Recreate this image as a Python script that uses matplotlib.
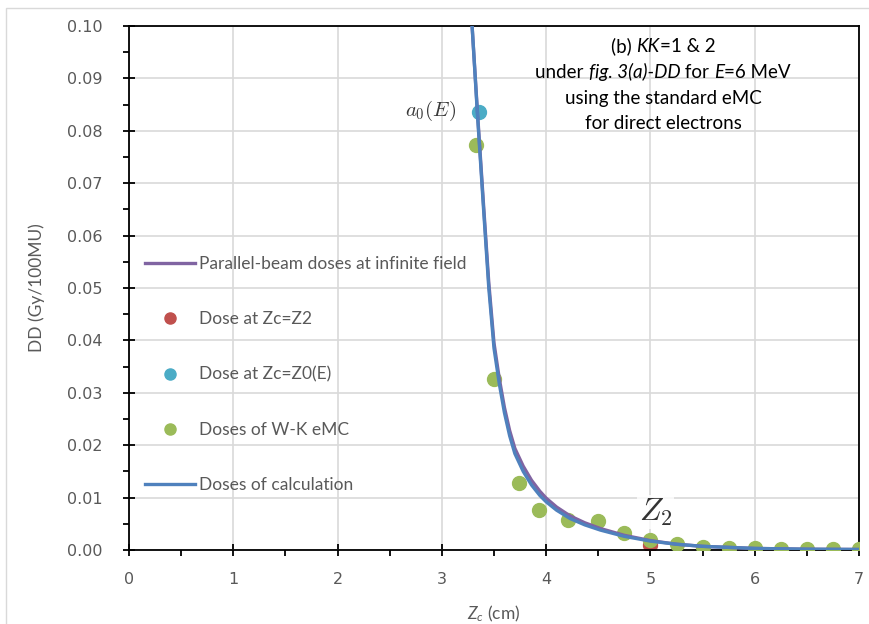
import numpy as np
import matplotlib
matplotlib.use("Agg")
import matplotlib.pyplot as plt
from matplotlib.ticker import MultipleLocator, FormatStrFormatter
from matplotlib.lines import Line2D
from matplotlib.patches import Rectangle

plt.rcParams["font.family"] = ["Lato", "DejaVu Sans"]
plt.rcParams["mathtext.fontset"] = "custom"
plt.rcParams["mathtext.rm"] = "Lato"
plt.rcParams["mathtext.it"] = "Lato:italic"

# depth (cm) and dose (Gy/100MU)
calc_z = [3.27, 3.29, 3.34, 3.40, 3.45, 3.50, 3.55, 3.60, 3.65, 3.70, 3.78, 3.86,
          3.94, 4.00, 4.10, 4.23, 4.37, 4.52, 4.75, 5.00, 5.25, 5.50, 5.75, 6.00, 6.50, 7.00]
calc_dd = [0.1065, 0.1000, 0.0835, 0.0650, 0.0500, 0.0385, 0.0318, 0.0262, 0.0218, 0.0184,
           0.0150, 0.0124, 0.0104, 0.0092, 0.0076, 0.0060, 0.0048, 0.0038, 0.0026, 0.0017,
           0.0011, 0.0007, 0.0005, 0.0003, 0.00015, 0.0001]
par_dd = [0.1065, 0.1000, 0.0840, 0.0658, 0.0510, 0.0395, 0.0328, 0.0272, 0.0228, 0.0194,
          0.0160, 0.0133, 0.0112, 0.0099, 0.0082, 0.0065, 0.0052, 0.0041, 0.0028, 0.0018,
          0.0011, 0.0007, 0.0005, 0.0003, 0.00015, 0.0001]

wk_z = [3.33, 3.50, 3.74, 3.93, 4.21, 4.50, 4.75, 5.00, 5.25, 5.50, 5.75, 6.00, 6.25, 6.50, 6.75, 7.00]
wk_dd = [0.0773, 0.0326, 0.0128, 0.0076, 0.0058, 0.0056, 0.0033, 0.0020, 0.0011, 0.0006,
         0.0004, 0.0003, 0.0002, 0.0001, 0.0001, 0.0001]

z2, dd_z2 = [5.0], [0.0010]
z0, dd_z0 = [3.36], [0.0836]

# caption lines as (text, style) runs
note_lines = [
    [("(b) ", "normal"), ("KK", "italic"), ("=1 & 2", "normal")],
    [("under ", "normal"), ("fig. 3(a)-DD", "italic"), (" for ", "normal"),
     ("E", "italic"), ("=6 MeV", "normal")],
    [("using the standard eMC", "normal")],
    [("for direct electrons", "normal")],
]

PURPLE, RED, CYAN, GREEN, BLUE = "#8064A2", "#C0504D", "#4BACC6", "#9BBB59", "#4F81BD"
GRAY_TXT = "#595959"
W, H = 869, 624

fig = plt.figure(figsize=(W / 100, H / 100), dpi=100)
fig.patches.append(Rectangle((6 / W, -0.1), 1.2, 1 - 8 / H + 0.1, transform=fig.transFigure,
                             fill=False, edgecolor="#D9D9D9", linewidth=1.0))
ax = fig.add_axes([129 / W, 1 - 550 / H, 730 / W, 524 / H])

ax.plot(z2, dd_z2, "o", color=RED, ms=10, zorder=2)
ax.plot(z0, dd_z0, "o", color=CYAN, ms=10, zorder=2)
ax.plot(wk_z, wk_dd, "o", color=GREEN, ms=10, zorder=3)
ax.plot(calc_z, par_dd, color=PURPLE, lw=2.4, zorder=4)
ax.plot(calc_z, calc_dd, color=BLUE, lw=2.4, zorder=5)

ax.set_xlim(0, 7)
ax.set_ylim(0, 0.10)
ax.xaxis.set_major_locator(MultipleLocator(1))
ax.xaxis.set_minor_locator(MultipleLocator(0.5))
ax.yaxis.set_major_locator(MultipleLocator(0.01))
ax.yaxis.set_minor_locator(MultipleLocator(0.005))
ax.yaxis.set_major_formatter(FormatStrFormatter("%.2f"))
ax.grid(True, which="major", color="#D9D9D9", lw=1.2, zorder=0)
ax.set_axisbelow(True)
for s in ax.spines.values():
    s.set_color("black")
    s.set_linewidth(1.3)
ax.tick_params(which="major", direction="inout", length=8, width=1.3, colors="black",
               labelcolor=GRAY_TXT, labelsize=11.5)
ax.tick_params(which="minor", direction="out", length=4, width=1.3, colors="black")
ax.tick_params(axis="x", pad=12)
ax.tick_params(axis="y", pad=15)
for lab in ax.get_xticklabels() + ax.get_yticklabels():
    lab.set_family("DejaVu Sans")

ax.set_xlabel(r"$Z_c$ (cm)", fontsize=12.5, color=GRAY_TXT, labelpad=12)
ax.set_ylabel("DD (Gy/100MU)", fontsize=12.5, color=GRAY_TXT, labelpad=16)

# caption: each line centred on x=663 px, runs laid out left to right
renderer = fig.canvas.get_renderer()
for i, runs in enumerate(note_lines):
    base_y = H - (52 + 25.8 * i)
    parts = [fig.text(0, 0, txt, transform=None, style=st, fontsize=13.5, va="baseline",
                      ha="left") for txt, st in runs]
    widths = [p.get_window_extent(renderer).width for p in parts]
    x = 663 - sum(widths) / 2
    for p, w in zip(parts, widths):
        p.set_position((x, base_y))
        x += w

ax.text(2.89, 0.0838, r"$a_0(E)$", math_fontfamily="cm", fontsize=15, color="#3A3A3A",
        ha="center", va="center")
ax.text(5.05, 0.0072, r"$Z_2$", math_fontfamily="cm", fontsize=23, color="#333333",
        ha="center", va="center",
        bbox=dict(facecolor="white", edgecolor="none", alpha=0.8, pad=1))

handles = [
    Line2D([], [], color=PURPLE, lw=2.4),
    Line2D([], [], ls="none", marker="o", color=RED, ms=8),
    Line2D([], [], ls="none", marker="o", color=CYAN, ms=8),
    Line2D([], [], ls="none", marker="o", color=GREEN, ms=8),
    Line2D([], [], color=BLUE, lw=2.4),
]
labels = ["Parallel-beam doses at infinite field", "Dose at Zc=Z2", "Dose at Zc=Z0(E)",
          "Doses of W-K eMC", "Doses of calculation"]
leg = ax.legend(handles, labels, loc="upper left", bbox_to_anchor=(0.012, 0.574),
                frameon=False, fontsize=12.5, labelspacing=2.26, handlelength=2.9,
                handletextpad=0.2, borderaxespad=0)
for t in leg.get_texts():
    t.set_color(GRAY_TXT)

fig.savefig("out.png", dpi=100)
